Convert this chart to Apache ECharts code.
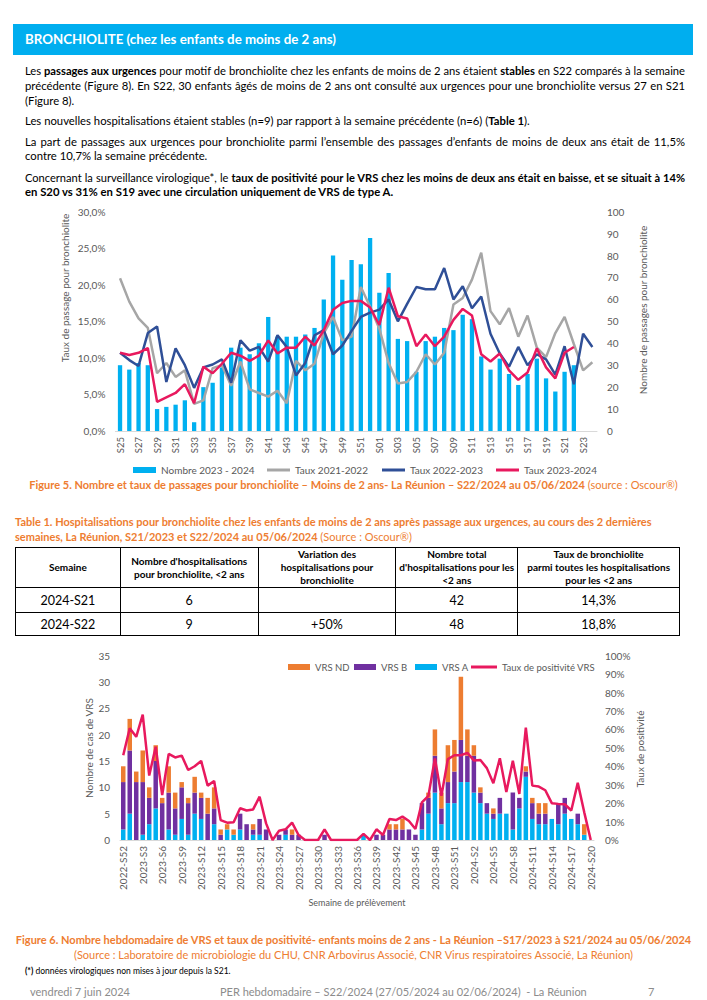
<!DOCTYPE html>
<html><head><meta charset="utf-8">
<script src="https://cdn.jsdelivr.net/npm/echarts@6/dist/echarts.min.js"></script>
<style>
html,body{margin:0;padding:0;background:#fff}
body{width:707px;height:1000px;position:relative;overflow:hidden;font-family:Lato,"Noto Sans",sans-serif;color:#000}
.a{position:absolute}
.bar{left:13px;top:24px;width:680px;height:31px;background:#00AEEF;color:#fff;font-weight:bold;font-size:13.3px;line-height:31px;padding-left:12px;box-sizing:border-box}
.ln{left:25px;width:660px;font-size:11.3px;line-height:15px;white-space:nowrap}
.j{text-align:justify;text-align-last:justify}
.or{color:#EE7D31}
.cap{font-size:11px;line-height:14px;white-space:nowrap}
table{border-collapse:collapse;font-family:Lato,"Noto Sans",sans-serif}
td{border:1.5px solid #000;text-align:center;padding:0}
.th td{font-weight:bold;font-size:10px;line-height:13px}
.tr td{font-size:12.5px}
.ft{color:#8c8c8c;font-size:11px;line-height:14px;white-space:nowrap}
</style></head>
<body>
<div class="a bar">BRONCHIOLITE (chez les enfants de moins de 2 ans)</div>
<div class="a ln j" style="top:63px">Les <b>passages aux urgences</b> pour motif de bronchiolite chez les enfants de moins de 2 ans étaient <b>stables</b> en S22 comparés à la semaine</div>
<div class="a ln j" style="top:78px">précédente (Figure 8). En S22, 30 enfants âgés de moins de 2 ans ont consulté aux urgences pour une bronchiolite versus 27 en S21</div>
<div class="a ln" style="top:93px">(Figure 8).</div>
<div class="a ln" style="top:113px">Les nouvelles hospitalisations étaient stables (n=9) par rapport à la semaine précédente (n=6) (<b>Table 1</b>).</div>
<div class="a ln j" style="top:134px">La part de passages aux urgences pour bronchiolite parmi l’ensemble des passages d’enfants de moins de deux ans était de 11,5%</div>
<div class="a ln" style="top:148px">contre 10,7% la semaine précédente.</div>
<div class="a ln j" style="top:170px">Concernant la surveillance virologique*, le <b>taux de positivité pour le VRS chez les moins de deux ans était en baisse, et se situait à 14%</b></div>
<div class="a ln" style="top:184px"><b>en S20 vs 31% en S19 avec une circulation uniquement de VRS de type A.</b></div>

<div id="c1" class="a" style="left:0;top:195px;width:707px;height:280px"></div>
<div class="a cap or" style="left:0;width:707px;top:478px;text-align:center"><b>Figure 5. Nombre et taux de passages pour bronchiolite – Moins de 2 ans- La Réunion – S22/2024 au 05/06/2024</b> (source : Oscour®)</div>

<div class="a cap or" style="left:15px;top:515px"><b>Table 1. Hospitalisations pour bronchiolite chez les enfants de moins de 2 ans après passage aux urgences, au cours des 2 dernières</b></div>
<div class="a cap or" style="left:15px;top:530px"><b>semaines, La Réunion, S21/2023 et S22/2024 au 05/06/2024</b> (Source : Oscour®)</div>
<table class="a" style="left:15px;top:547px;width:665px">
<colgroup><col style="width:105px"><col style="width:138px"><col style="width:138px"><col style="width:122px"><col style="width:162px"></colgroup>
<tr class="th" style="height:38px"><td>Semaine</td><td>Nombre d'hospitalisations<br>pour bronchiolite, &lt;2 ans</td><td>Variation des<br>hospitalisations pour<br>bronchiolite</td><td>Nombre total<br>d'hospitalisations pour les<br>&lt;2 ans</td><td>Taux de bronchiolite<br>parmi toutes les hospitalisations<br>pour les &lt;2 ans</td></tr>
<tr class="tr" style="height:25px"><td>2024-S21</td><td>6</td><td></td><td>42</td><td>14,3%</td></tr>
<tr class="tr" style="height:23px"><td>2024-S22</td><td>9</td><td>+50%</td><td>48</td><td>18,8%</td></tr>
</table>

<div id="c2" class="a" style="left:0;top:645px;width:707px;height:270px"></div>
<div class="a cap or" style="left:0;width:707px;top:933px;text-align:center"><b>Figure 6. Nombre hebdomadaire de VRS et taux de positivité- enfants moins de 2 ans - La Réunion –S17/2023 à S21/2024 au 05/06/2024</b></div>
<div class="a cap or" style="left:0;width:707px;top:948px;text-align:center">(Source : Laboratoire de microbiologie du CHU, CNR Arbovirus Associé, CNR Virus respiratoires Associé, La Réunion)</div>
<div class="a" style="left:25px;top:966px;font-size:8.5px;white-space:nowrap"><b>(*)</b> données virologiques non mises à jour depuis la S21.</div>
<div class="a ft" style="left:30px;top:985px">vendredi 7 juin 2024</div>
<div class="a ft" style="left:220px;top:985px">PER hebdomadaire – S22/2024 (27/05/2024 au 02/06/2024)&nbsp; - La Réunion</div>
<div class="a ft" style="left:648px;top:985px">7</div>

<script>
// ---------- Figure 5 data ----------
const weeks1 = ['S25','S26','S27','S28','S29','S30','S31','S32','S33','S34','S35','S36','S37','S38','S39','S40','S41','S42','S43','S44','S45','S46','S47','S48','S49','S50','S51','S52',
 'S01','S02','S03','S04','S05','S06','S07','S08','S09','S10','S11','S12','S13','S14','S15','S16','S17','S18','S19','S20','S21','S22','S23','S24'];
const nombre2324 = [30,28,31,30,10,11,12,14,4,20,22,29,38,38,35,40,52,43,43,43,44,47,60,80,69,78,76,88,
 63,72,42,41,27,41,43,47,46,53,51,34,28,33,26,21,26,33,24,18,27,30];
const taux2122 = [20.9,17.7,15.4,14.1,7.9,9.3,7.4,8.3,3.7,4.2,8.6,9.0,6.2,9.5,5.7,5.2,4.7,5.5,3.8,9.6,8.3,9.2,13.4,15.6,12.4,12.9,19.7,17.0,
 14.0,9.3,6.5,6.7,8.1,10.5,9.1,10.7,17.3,18.2,20.7,24.4,16.4,14.6,16.8,12.9,15.8,11.4,10.1,13.4,15.6,11.9,8.3,9.4];
const taux2223 = [10.7,9.7,8.9,13.4,14.3,6.7,11.3,9.0,5.9,8.7,9.1,9.8,6.6,12.4,11.0,11.5,9.5,13.1,11.5,7.6,9.3,13.1,13.8,10.5,11.7,13.7,15.6,16.2,
 16.6,18.0,15.0,17.4,19.7,19.4,19.4,22.3,18.0,19.8,16.8,18.4,13.3,10.6,8.8,11.5,9.0,10.5,9.8,7.7,11.6,6.4,13.3,11.5];
const taux2324 = [10.7,10.4,10.7,11.35,4.0,4.6,5.2,6.4,3.8,8.8,7.9,9.2,10.7,10.3,9.6,10.3,12.4,10.6,11.4,11.4,12.9,11.7,13.8,16.6,17.5,17.8,17.8,16.9,
 14.5,19.6,15.7,15.4,11.6,13.2,11.6,12.9,15.2,16.7,15.8,10.5,9.5,10.6,8.3,7.0,8.0,11.3,8.7,7.2,10.7,11.5];

// ---------- Figure 6 data ----------
const weeks2 = ['2022-S52'];
for (let w = 1; w <= 52; w++) weeks2.push('2023-S' + w);
for (let w = 1; w <= 20; w++) weeks2.push('2024-S' + w);
const vrsA  = [2,5,0,1,3,6,0,2,1,4,1,5,4,0,3,0,2,1,2,0,1,1,0,0,0,1,0,0,0,0,0,0,0,0,0,0,0,1,0,0,0,0,0,0,0,0,2,5,9,3,7,7,11,11,9,7,5,4,5,5,2,6,12,4,3,3,4,3,5,4,3,1,0];
const vrsB  = [9,12,11,10,5,9,7,7,5,6,6,4,4,5,3,1,0,0,3,3,1,3,2,0,1,1,1,1,0,0,0,1,0,0,0,0,0,0,0,1,1,2,2,2,2,1,5,3,7,3,4,6,8,5,7,2,2,1,3,0,7,2,1,3,2,2,0,4,3,0,2,0,0];
const vrsND = [3,6,2,6,2,3,1,5,3,1,1,3,1,3,4,1,1,1,0,0,1,0,0,0,0,0,1,0,0,0,0,0,0,0,0,0,0,0,0,0,0,1,1,2,0,0,0,1,5,3,7,6,12,5,2,1,0,1,0,0,0,0,1,1,2,2,0,0,0,0,0,2,0];
const tauxPos = [46,60.6,56,68,35,50.6,24.4,46.7,44.8,45.8,38,40,42.9,29.5,32,10.8,9.4,9.6,17.2,16,16.6,23.5,9,0,5,5.8,9.4,2.7,0,0,0,5.8,0,0,0,0,0,3.3,0,5.8,2.7,11.4,10.8,12.7,10.3,6,20.4,24,44.3,24,43.9,46,46,47.3,43.2,43.4,39,30.8,44.3,26,43,25,61,29.5,29,27,20,19.6,19.4,16,31,15,0];

const FONT = 'Lato';
const GREY_TXT = '#595959';
function leg(name, left, top, w, h, fs){
  return {data:[name], left:left, top:top, itemWidth:w, itemHeight:h, icon:'rect',
    textStyle:{fontSize:fs || 10, color:GREY_TXT, fontFamily:FONT}};
}
function vtext(text, x, y){
  return {type:'text', x:x, y:y, rotation:Math.PI/2,
    style:{text:text, fill:GREY_TXT, font:'10px Lato', textAlign:'center', textVerticalAlign:'middle'}};
}

const c1 = echarts.init(document.getElementById('c1'), null, {renderer:'svg'});
c1.setOption({
  animation:false,
  textStyle:{fontFamily:FONT},
  grid:{left:115.4, right:110, top:16.7, bottom:44},
  legend:[
    leg('Nombre 2023 - 2024', 128, 265, 23, 6),
    leg('Taux 2021-2022', 262, 265, 23, 3),
    leg('Taux 2022-2023', 377, 265, 23, 3),
    leg('Taux 2023-2024', 491, 265, 23, 3)
  ],
  xAxis:{type:'category', data:weeks1, boundaryGap:true,
    axisLine:{lineStyle:{color:'#D9D9D9', width:1}}, axisTick:{show:false},
    axisLabel:{rotate:90, interval:1, fontSize:9.5, color:GREY_TXT, margin:6, fontFamily:FONT}},
  yAxis:[
    {type:'value', min:0, max:30, interval:5, splitLine:{show:false}, axisLine:{show:false}, axisTick:{show:false},
     axisLabel:{fontSize:10, color:GREY_TXT, margin:10, fontFamily:FONT, formatter:v=>v.toFixed(1).replace('.',',')+'%'}},
    {type:'value', min:0, max:100, interval:10, splitLine:{show:false}, axisLine:{show:false}, axisTick:{show:false},
     axisLabel:{fontSize:10, color:GREY_TXT, margin:10, fontFamily:FONT}}
  ],
  graphic:[
    vtext('Taux de passage pour bronchiolite', 65, 93),
    vtext('Nombre de passages pour bronchiolite', 643, 115)
  ],
  series:[
    {name:'Nombre 2023 - 2024', type:'bar', yAxisIndex:1, data:nombre2324, barWidth:4.3, itemStyle:{color:'#00B0F0'}},
    {name:'Taux 2021-2022', type:'line', yAxisIndex:0, data:taux2122, symbol:'none', lineStyle:{width:2.5, color:'#A6A6A6'}, itemStyle:{color:'#A6A6A6'}},
    {name:'Taux 2022-2023', type:'line', yAxisIndex:0, data:taux2223, symbol:'none', lineStyle:{width:2.5, color:'#2F4F97'}, itemStyle:{color:'#2F4F97'}},
    {name:'Taux 2023-2024', type:'line', yAxisIndex:0, data:taux2324, symbol:'none', lineStyle:{width:2.5, color:'#E8195E'}, itemStyle:{color:'#E8195E'}}
  ]
});

const c2 = echarts.init(document.getElementById('c2'), null, {renderer:'svg'});
c2.setOption({
  animation:false,
  textStyle:{fontFamily:FONT},
  grid:{left:120, right:113, top:10.7, bottom:75},
  legend:[
    leg('VRS ND', 283, 12, 22, 6, 9.5),
    leg('VRS B', 349, 12, 22, 6, 9.5),
    leg('VRS A', 410, 12, 22, 6, 9.5),
    leg('Taux de positivité VRS', 466, 12, 26, 3, 9.5)
  ],
  xAxis:{type:'category', data:weeks2, boundaryGap:true, name:'Semaine de prélèvement', nameLocation:'middle', nameGap:49,
    nameTextStyle:{fontSize:9, color:GREY_TXT, fontFamily:FONT},
    axisLine:{lineStyle:{color:'#D9D9D9', width:1}}, axisTick:{show:false},
    axisLabel:{rotate:90, interval:2, fontSize:10, color:GREY_TXT, margin:6, fontFamily:FONT}},
  yAxis:[
    {type:'value', min:0, max:35, interval:5, splitLine:{show:false}, axisLine:{show:false}, axisTick:{show:false},
     axisLabel:{fontSize:10, color:GREY_TXT, margin:10, fontFamily:FONT}},
    {type:'value', min:0, max:100, interval:10, splitLine:{show:false}, axisLine:{show:false}, axisTick:{show:false},
     axisLabel:{fontSize:10, color:GREY_TXT, margin:11, fontFamily:FONT, formatter:'{value}%'}}
  ],
  graphic:[
    vtext('Nombre de cas de VRS', 89, 103),
    vtext('Taux de positivité', 640, 104)
  ],
  series:[
    {name:'VRS A', type:'bar', stack:'vrs', data:vrsA, barWidth:4.5, itemStyle:{color:'#00B0F0'}},
    {name:'VRS B', type:'bar', stack:'vrs', data:vrsB, barWidth:4.5, itemStyle:{color:'#7030A0'}},
    {name:'VRS ND', type:'bar', stack:'vrs', data:vrsND, barWidth:4.5, itemStyle:{color:'#ED7D31'}},
    {name:'Taux de positivité VRS', type:'line', yAxisIndex:1, data:tauxPos, symbol:'none', lineStyle:{width:2.5, color:'#E8195E'}, itemStyle:{color:'#E8195E'}}
  ]
});

// shrink justified lines if they overflow
document.querySelectorAll('.ln.j').forEach(el=>{
  let fs = 11.3;
  el.style.whiteSpace='normal';
  while (el.scrollHeight > 16 && fs > 9) { fs -= 0.1; el.style.fontSize = fs + 'px'; }
});
</script>
</body></html>
